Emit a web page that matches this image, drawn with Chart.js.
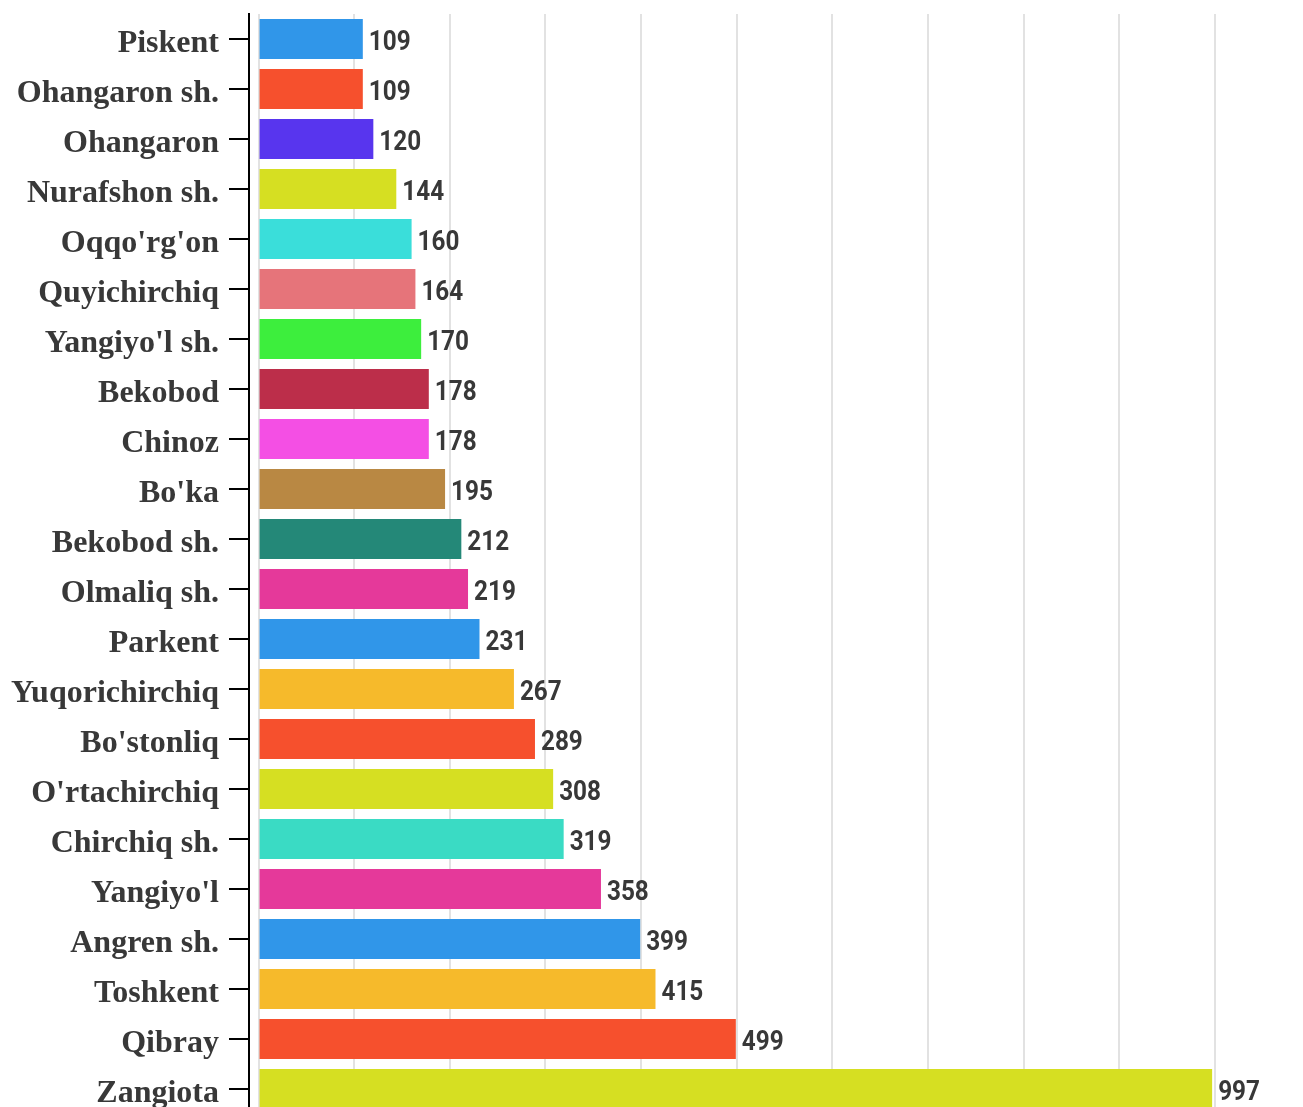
<!DOCTYPE html>
<html>
<head>
<meta charset="utf-8">
<script src="https://cdn.jsdelivr.net/npm/chart.js@4"></script>
<style>
    html, body { margin: 0; padding: 0; background: #fff; overflow: hidden; }
    #wrap { width: 1303px; height: 1114px; }
</style>
</head>
<body>
<div id="wrap"><canvas id="barChart"></canvas></div>
<script>
const districts = ["Piskent", "Ohangaron sh.", "Ohangaron", "Nurafshon sh.", "Oqqo'rg'on", "Quyichirchiq",
    "Yangiyo'l sh.", "Bekobod", "Chinoz", "Bo'ka", "Bekobod sh.", "Olmaliq sh.", "Parkent",
    "Yuqorichirchiq", "Bo'stonliq", "O'rtachirchiq", "Chirchiq sh.", "Yangiyo'l", "Angren sh.",
    "Toshkent", "Qibray", "Zangiota"];
const counts = [109, 109, 120, 144, 160, 164, 170, 178, 178, 195, 212, 219, 231, 267, 289, 308, 319, 358, 399, 415, 499, 997];
const barColors = ["#3096E9", "#F6502D", "#5835EE", "#D6DF22", "#3ADEDA", "#E6747A", "#3DEE3D", "#BC2E4A",
    "#F44FE4", "#B98843", "#248878", "#E5399A", "#3096E9", "#F6BA2B", "#F6502D", "#D6DF22",
    "#3ADBC4", "#E5399A", "#3096E9", "#F6BA2B", "#F6502D", "#D6DF22"];
const xTicks = [0, 100, 200, 300, 400, 500, 600, 700, 800, 900, 1000];

// numbers to the right of each bar
const valueLabels = {
    id: 'valueLabels',
    afterDatasetsDraw(chart) {
        const ctx = chart.ctx;
        const meta = chart.getDatasetMeta(0);
        ctx.save();
        ctx.fillStyle = '#383838';
        ctx.font = 'bold 27px Roboto';
        ctx.textBaseline = 'middle';
        meta.data.forEach((bar, i) => {
            ctx.save();
            ctx.translate(bar.x + 6, bar.y + 4);
            ctx.scale(0.9, 1);
            ctx.fillText(String(counts[i]), 0, 0);
            ctx.restore();
        });
        ctx.restore();
    }
};

new Chart(document.getElementById('barChart'), {
    type: 'bar',
    data: {
        labels: districts,
        datasets: [{
            data: counts,
            backgroundColor: barColors,
            barPercentage: 0.8,
            categoryPercentage: 1
        }]
    },
    options: {
        indexAxis: 'y',
        responsive: true,
        maintainAspectRatio: false,
        animation: false,
        layout: { padding: { top: 14, bottom: 0, right: 88, left: 0 } },
        plugins: {
            legend: { display: false },
            tooltip: { enabled: false }
        },
        scales: {
            x: {
                min: -10,
                max: 1000,
                afterBuildTicks(scale) {
                    scale.ticks = xTicks.map(v => ({ value: v }));
                },
                afterFit(scale) { scale.height = 0; },
                ticks: { display: false },
                grid: { color: '#e2e2e2', lineWidth: 2, drawTicks: false },
                border: { display: false }
            },
            y: {
                afterFit(scale) {
                    scale.width = 249;
                    scale.paddingTop = 0;
                    scale.paddingBottom = 0;
                },
                ticks: {
                    color: '#383838',
                    padding: 10,
                    labelOffset: 5,
                    font: { family: 'Liberation Serif', size: 32, weight: 'bold' }
                },
                grid: { offset: false, drawOnChartArea: false, color: '#000', lineWidth: 2, tickLength: 20 },
                border: { color: '#000', width: 2 }
            }
        }
    },
    plugins: [valueLabels]
});
</script>
</body>
</html>
